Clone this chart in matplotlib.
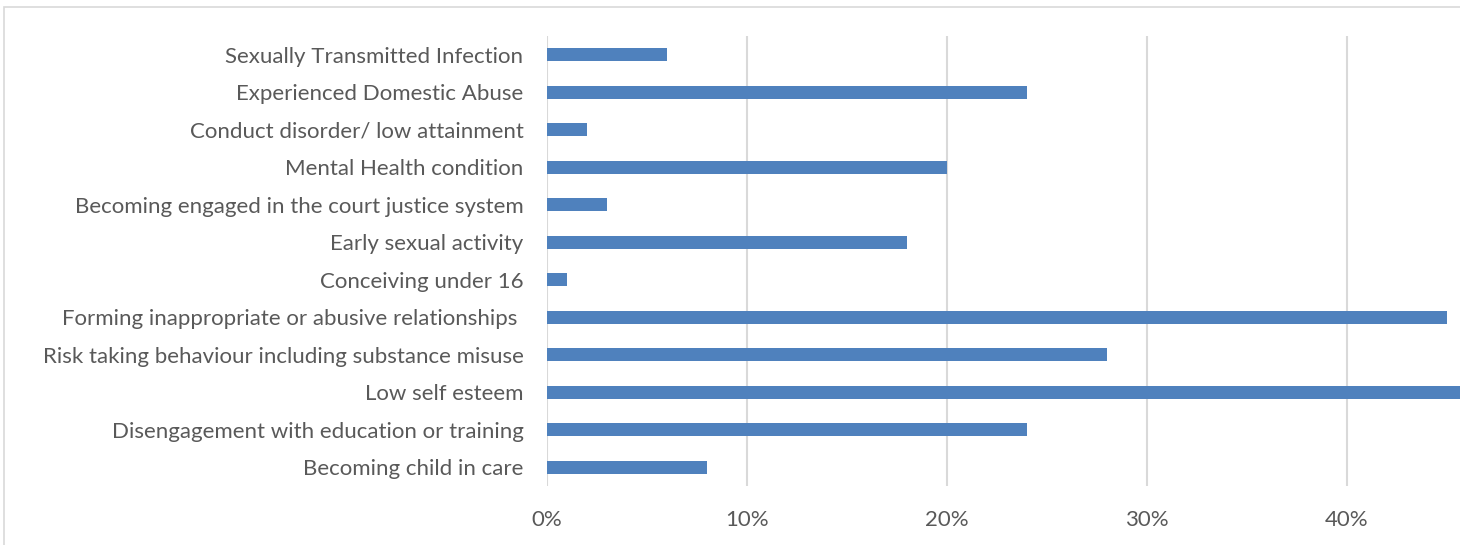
import matplotlib
matplotlib.use('Agg')
import matplotlib.pyplot as plt
from matplotlib.patches import Rectangle
from matplotlib.ticker import FuncFormatter

# categories listed top to bottom as in the chart
categories = [
    'Sexually Transmitted Infection',
    'Experienced Domestic Abuse',
    'Conduct disorder/ low attainment',
    'Mental Health condition',
    'Becoming engaged in the court justice system',
    'Early sexual activity',
    'Conceiving under 16',
    'Forming inappropriate or abusive relationships ',
    'Risk taking behaviour including substance misuse',
    'Low self esteem',
    'Disengagement with education or training',
    'Becoming child in care',
]
values = [6, 24, 2, 20, 3, 18, 1, 45, 28, 48, 24, 8]
xticks = [0, 10, 20, 30, 40]

BAR = '#4F81BD'
GRID = '#D9D9D9'
TEXT = '#595959'

plt.rcParams['font.family'] = ['Lato', 'DejaVu Sans']

W, H = 1460, 545
fig = plt.figure(figsize=(W / 100, H / 100), dpi=100)

# outer chart frame (top and left edges visible, rest cropped)
fig.patches.append(Rectangle((4 / W, -0.1), 1.2, (H - 7) / H + 0.1,
                             transform=fig.transFigure, fill=False,
                             edgecolor=GRID, linewidth=1.2))

ax = fig.add_axes([547 / W, (H - 486) / H, (W - 547) / W, (486 - 36) / H])

ypos = list(range(len(categories)))
ax.barh(ypos, values, height=0.35, color=BAR, zorder=3)
ax.set_yticks(ypos)
ax.set_yticklabels(categories)
ax.set_ylim(len(categories) - 0.5, -0.5)

ax.set_xlim(0, (W - 547) / 20)
ax.set_xticks(xticks)
ax.xaxis.set_major_formatter(FuncFormatter(lambda v, p: f'{v:.0f}%'))
ax.grid(axis='x', color=GRID, linewidth=1.5, zorder=0)

for s in ax.spines.values():
    s.set_visible(False)
ax.tick_params(axis='both', length=0, labelsize=16, colors=TEXT)
ax.tick_params(axis='y', pad=17)
ax.tick_params(axis='x', pad=17)

fig.savefig('out.png', dpi=100)
